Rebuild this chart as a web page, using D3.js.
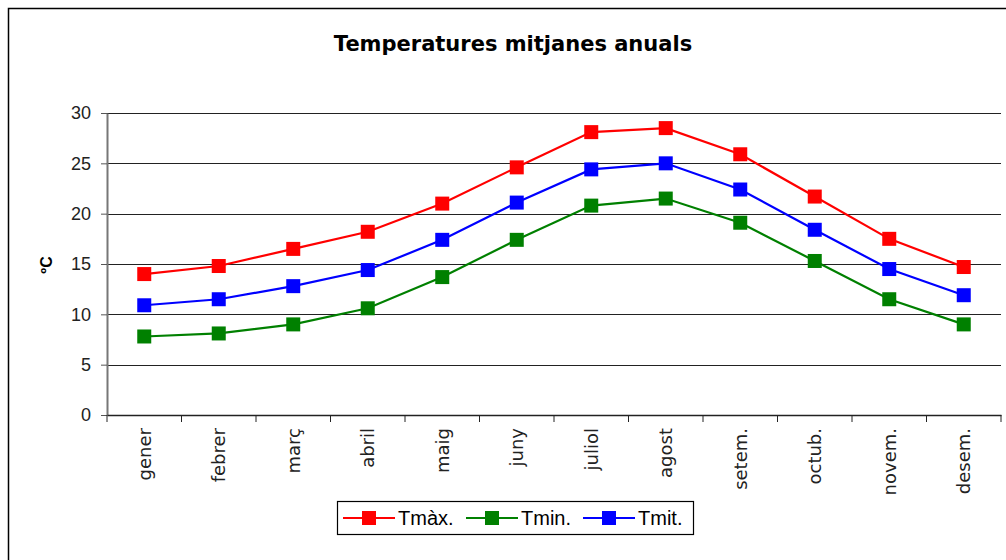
<!DOCTYPE html>
<html>
<head>
<meta charset="utf-8">
<script src="https://cdn.jsdelivr.net/npm/d3@7"></script>
<style>
body { margin:0; background:#fff; }
svg { display:block; }
</style>
</head>
<body>
<div id="chart"></div>
<script>
// mesos i temperatures (ºC)
var months = ["gener","febrer","març","abril","maig","juny","juliol","agost","setem.","octub.","novem.","desem."]
var tmax = [14.0,14.8,16.5,18.2,21.0,24.6,28.1,28.5,25.9,21.7,17.5,14.7]
var tmin = [7.8,8.1,9.0,10.6,13.7,17.4,20.8,21.5,19.1,15.3,11.5,9.0]
var tmit = [10.9,11.5,12.8,14.4,17.4,21.1,24.4,25.0,22.4,18.4,14.5,11.9]
var yTicks = [0,5,10,15,20,25,30]

var series = [
  {name:"Tmàx.", values:tmax, color:"#ff0000"},
  {name:"Tmin.", values:tmin, color:"#008000"},
  {name:"Tmit.", values:tmit, color:"#0000ff"}
]

var W = 1006, H = 560
var svg = d3.select("#chart").append("svg").attr("width",W).attr("height",H)

// marc exterior
svg.append("rect").attr("x",8.5).attr("y",8.5).attr("width",W+10).attr("height",H+10)
  .attr("fill","none").attr("stroke","#000").attr("stroke-width",1.5)

var pLeft = 107, pRight = 1001, pTop = 113, pBottom = 415

var x = d3.scaleBand().domain(months).range([pLeft,pRight])
var y = d3.scaleLinear().domain([0,30]).range([pBottom,pTop])

// títol
svg.append("text").attr("x",513).attr("y",51).attr("text-anchor","middle")
  .attr("font-family","'DejaVu Sans', sans-serif").attr("font-weight","bold")
  .attr("font-size",21).text("Temperatures mitjanes anuals")

// línies de la graella
svg.append("g").selectAll("line").data(yTicks.slice(1)).enter().append("line")
  .attr("x1",pLeft).attr("x2",pRight)
  .attr("y1",function(d){return Math.round(y(d))+0.5}).attr("y2",function(d){return Math.round(y(d))+0.5})
  .attr("stroke","#222").attr("stroke-width",1)

// eix y
var yAxis = svg.append("g").attr("transform","translate("+pLeft+",0)")
  .call(d3.axisLeft(y).tickValues(yTicks).tickSize(6).tickSizeOuter(0))
yAxis.select(".domain").attr("stroke","#777").attr("stroke-width",2)
yAxis.selectAll(".tick line").attr("stroke","#555")
yAxis.selectAll("text").attr("font-family","'Liberation Sans', Arial, sans-serif")
  .attr("font-size",18).attr("fill","#222").attr("x",-16)

svg.append("text").attr("transform","translate(52,265) rotate(-90)").attr("text-anchor","middle")
  .attr("font-family","'Liberation Sans', Arial, sans-serif").attr("font-weight","bold")
  .attr("font-size",16).text("ºC")

// eix x
var xAxis = svg.append("g").attr("transform","translate(0,"+pBottom+")")
  .call(d3.axisBottom(x).tickSize(0).tickSizeOuter(0))
xAxis.select(".domain").attr("stroke","#222").attr("stroke-width",1.5)
xAxis.selectAll(".tick text")
  .attr("font-family","'DejaVu Sans', sans-serif").attr("font-size",18).attr("fill","#222")
  .attr("transform","rotate(-90)").attr("text-anchor","end").attr("x",-13).attr("y",0).attr("dy","0.35em")
xAxis.selectAll(".sep").data(months.concat(["end"])).enter().append("line")
  .attr("x1",function(d,i){return pLeft + i*x.bandwidth()}).attr("x2",function(d,i){return pLeft + i*x.bandwidth()})
  .attr("y1",0).attr("y2",7).attr("stroke","#222")

// sèries
var line = d3.line().x(function(d,i){return x(months[i])+x.bandwidth()/2}).y(function(d){return y(d)})
var ms = 14
series.forEach(function(s){
  svg.append("path").datum(s.values).attr("d",line).attr("fill","none")
    .attr("stroke",s.color).attr("stroke-width",2.2)
  svg.append("g").selectAll("rect").data(s.values).enter().append("rect")
    .attr("x",function(d,i){return x(months[i])+x.bandwidth()/2-ms/2})
    .attr("y",function(d){return y(d)-ms/2})
    .attr("width",ms).attr("height",ms).attr("fill",s.color)
})

// llegenda
var lg = svg.append("g").attr("transform","translate(337,501)")
lg.append("rect").attr("x",0.5).attr("y",0.5).attr("width",356).attr("height",33)
  .attr("fill","#fff").attr("stroke","#000").attr("stroke-width",1.2)
var lgX = [6,129,246]
series.forEach(function(s,i){
  var g = lg.append("g").attr("transform","translate("+lgX[i]+",17)")
  g.append("line").attr("x1",0).attr("x2",52).attr("y1",0).attr("y2",0).attr("stroke",s.color).attr("stroke-width",2)
  g.append("rect").attr("x",19).attr("y",-7).attr("width",14).attr("height",14).attr("fill",s.color)
  g.append("text").attr("x",55).attr("y",0).attr("dy","0.36em")
    .attr("font-family","'Liberation Sans', Arial, sans-serif").attr("font-size",20).text(s.name)
})
</script>
</body>
</html>
